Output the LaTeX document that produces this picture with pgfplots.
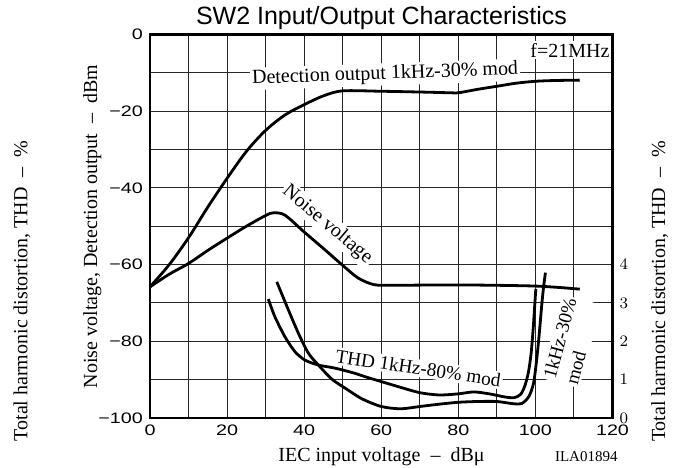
\documentclass[border=0pt]{standalone}
\usepackage{pgfplots}
\pgfplotsset{compat=1.18}
\usepackage{fontspec}
\setmainfont{Liberation Serif}
\newfontfamily\sansfont{Liberation Sans}
\newfontfamily\tickfont{Liberation Sans}[FakeStretch=1.3]
\begin{document}
\begin{tikzpicture}
\useasboundingbox (-75bp,-25bp) rectangle (265bp,209bp);
\begin{axis}[
  at={(0,0)}, anchor=south west, scale only axis,
  width=231.25bp, height=191.75bp,
  xmin=0, xmax=120, ymin=-100, ymax=0,
  xtick={0,20,40,60,80,100,120},
  xticklabels={0,20,40,60,80,100,120},
  ytick={-100,-80,-60,-40,-20,0},
  yticklabels={−100,−80,−60,−40,−20,0},
  minor xtick={10,30,50,70,90,110},
  minor ytick={-90,-70,-50,-30,-10},
  grid=both,
  major grid style={black!85, line width=0.5bp},
  minor grid style={black!85, line width=0.5bp},
  major tick length=0pt, minor tick length=0pt,
  axis line style={line width=1.2bp},
  ticklabel style={font=\tickfont\fontsize{7.6bp}{9bp}\selectfont},
  clip=false,
]
\node[fill=white, inner sep=1bp, rotate=2, font=\fontsize{10bp}{12bp}\selectfont] at (axis cs:61.0,-10.4) {Detection output 1kHz-30\% mod};
\node[fill=white, inner sep=1bp, anchor=base west, font=\fontsize{10bp}{12bp}\selectfont] at (axis cs:98.1,-5.95) {f=21MHz};
\node[fill=white, inner sep=1bp, rotate=-40, font=\fontsize{10bp}{12bp}\selectfont] at (axis cs:46.0,-49.6) {Noise voltage};
\node[fill=white, inner sep=1bp, rotate=-8.5, font=\fontsize{9.6bp}{11bp}\selectfont] at (axis cs:69.6,-87.0) {THD 1kHz-80\% mod};
\node[fill=white, inner sep=1bp, rotate=75, align=left, font=\fontsize{9.5bp}{11.5bp}\selectfont] at (axis cs:109.2,-80.0) {1kHz-30\%\\mod};
\addplot[black, line width=1.4bp, smooth, tension=0.5] coordinates {
(0,-65.8) (5,-60) (10,-53) (15,-45) (20,-37.5) (25,-30.5) (30,-25) (35,-21) (40,-18.3) (45,-16) (50,-14.7) (60,-14.8) (70,-15) (78,-15.2) (80,-15.2) (85,-14.3) (90,-13.5) (95,-12.7) (100,-12.2) (105,-12) (111.5,-11.9)
};
\addplot[black, line width=1.4bp, smooth, tension=0.5] coordinates {
(0,-65.8) (5,-62.5) (10,-59.7) (15,-56.3) (20,-53.1) (25,-50) (30,-47.2) (32,-46.5) (35,-47.1) (40,-51.5) (45,-55.8) (50,-60.2) (54,-63.5) (58,-65.2) (62,-65.4) (80,-65.3) (100,-65.6) (111.5,-66.4)
};
\end{axis}
\begin{axis}[
  at={(0,0)}, anchor=south west, scale only axis,
  width=231.25bp, height=191.75bp,
  xmin=0, xmax=120, ymin=0, ymax=10,
  axis x line=none, axis y line*=right,
  ytick={0,1,2,3,4},
  major tick length=0pt,
  y axis line style={line width=1.2bp},
  ticklabel style={font=\tickfont\fontsize{7.6bp}{9bp}\selectfont},
  clip=false,
]
\addplot[black, line width=1.4bp, smooth, tension=0.45] coordinates {
(30.7,3.1) (32.4,2.64) (35,2.12) (37.6,1.73) (40.2,1.51) (43.7,1.38) (48,1.3) (53,1.17) (56,1.07) (60,0.95) (65,0.8) (70,0.66) (75,0.6) (80,0.63) (84,0.68) (88,0.63) (92,0.55) (94.5,0.53) (96.2,0.62) (97.3,0.85) (98.2,1.2) (98.9,1.7) (99.4,2.3) (99.8,2.9) (100.1,3.36)
};
\addplot[black, line width=1.4bp, smooth, tension=0.45] coordinates {
(32.9,3.55) (35.9,2.82) (38.5,2.21) (41.1,1.69) (43.7,1.38) (47.1,1.02) (50.6,0.78) (55,0.5) (60,0.3) (65,0.24) (70,0.3) (75,0.36) (80,0.41) (85,0.43) (90,0.43) (94.4,0.37) (96.5,0.38) (98.3,0.56) (99.5,0.9) (100.3,1.5) (101,2.2) (101.6,2.9) (102.1,3.4) (102.6,3.79)
};
\end{axis}
\node[anchor=base, font=\sansfont\fontsize{12.5bp}{14bp}\selectfont] at (115.75bp,196.5bp) {SW2 Input/Output Characteristics};
\node[anchor=base, font=\fontsize{10bp}{12bp}\selectfont] at (115.75bp,-21.5bp) {IEC input voltage\ \ –\ \ dBμ};
\node[anchor=base west, font=\fontsize{7.5bp}{9bp}\selectfont] at (199bp,-21.5bp) {ILA01894};
\node[anchor=base, rotate=90, font=\fontsize{10bp}{12bp}\selectfont] at (-26.5bp,95.75bp) {Noise voltage, Detection output\ \ –\ \ dBm};
\node[anchor=base, rotate=90, font=\fontsize{10bp}{12bp}\selectfont] at (-61.25bp,63.5bp) {Total harmonic distortion, THD\ \ –\ \ \%};
\node[anchor=base, rotate=90, font=\fontsize{10bp}{12bp}\selectfont] at (257.5bp,63.25bp) {Total harmonic distortion, THD\ \ –\ \ \%};
\end{tikzpicture}
\end{document}
